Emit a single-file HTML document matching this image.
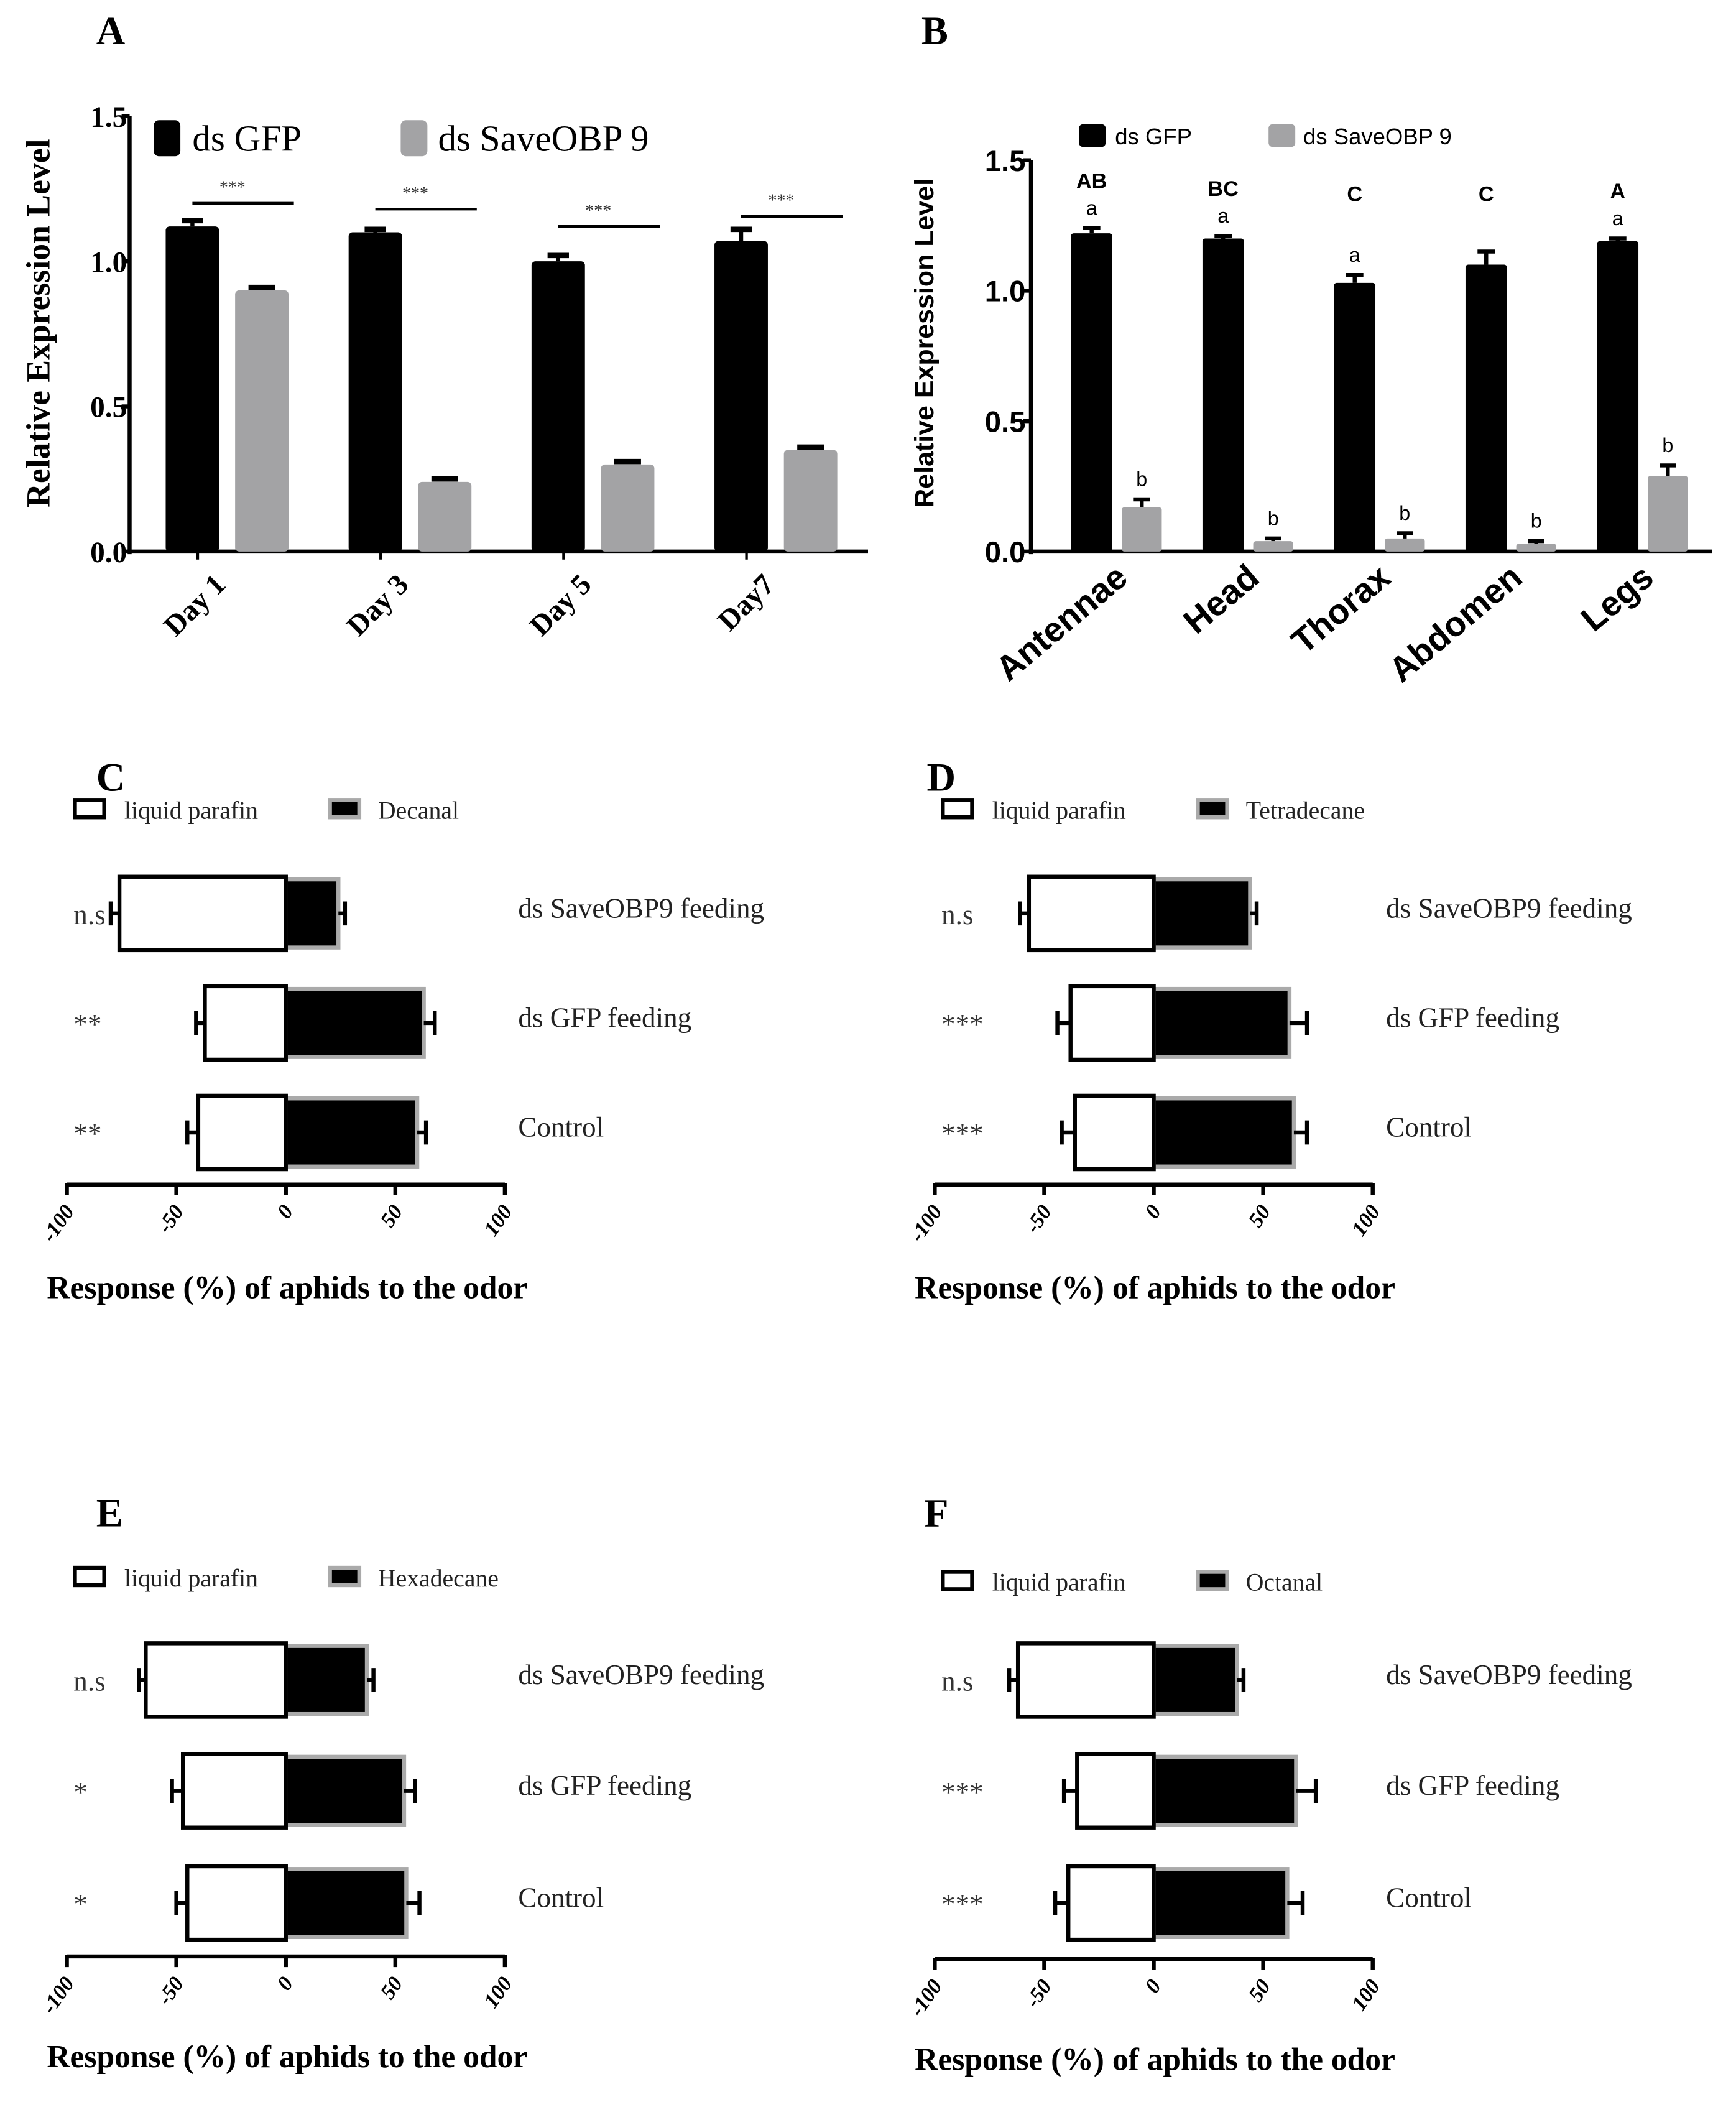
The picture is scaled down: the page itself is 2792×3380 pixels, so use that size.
<!DOCTYPE html>
<html><head><meta charset="utf-8"><style>
html,body{margin:0;padding:0;background:#fff}
svg{display:block}
.serif{font-family:"Liberation Serif",serif}
.sans{font-family:"Liberation Sans",sans-serif}
</style></head><body>
<svg id="fig" width="2792" height="3380" viewBox="0 0 1300 1574" xmlns="http://www.w3.org/2000/svg">
<rect width="1300" height="1574" fill="#fff"/>
<g class="serif" font-weight="bold" font-size="30">
<text x="72" y="33">A</text>
<text x="690" y="33">B</text>
<text x="72" y="592">C</text>
<text x="694" y="592">D</text>
<text x="72" y="1143">E</text>
<text x="692" y="1143">F</text>
</g>
</svg>
<script>
// ---- Panel A data ----
const daysA = ["Day 1","Day 3","Day 5","Day7"];
const gfpA = [1.12, 1.10, 1.00, 1.07];
const gfpErrA = [0.02, 0.01, 0.02, 0.04];
const obpA = [0.90, 0.24, 0.30, 0.35];
const obpErrA = [0.01, 0.01, 0.01, 0.01];
const sigA = [1.20, 1.18, 1.12, 1.155];
const ticksA = ["0.0","0.5","1.0","1.5"];
// ---- Panel B data ----
const tissuesB = ["Antennae","Head","Thorax","Abdomen","Legs"];
const gfpB = [1.22, 1.20, 1.03, 1.10, 1.19];
const gfpErrB = [0.02, 0.01, 0.03, 0.05, 0.01];
const obpB = [0.17, 0.04, 0.05, 0.03, 0.29];
const obpErrB = [0.03, 0.01, 0.02, 0.01, 0.04];
const upperB = ["AB","BC","C","C","A"];
const lowerGfpB = ["a","a","a","","a"];
const lowerObpB = ["b","b","b","b","b"];
const ticksB = ["0.0","0.5","1.0","1.5"];
// ---- Panels C-F data ----
const rowsCF = ["ds SaveOBP9 feeding","ds GFP feeding","Control"];
const ticksCF = [-100,-50,0,50,100];
const odorC = "Decanal", parC = [-76,-37,-40], parErrC=[4,4,5], odC=[24,63,60], odErrC=[3,5,4], sigC=["n.s","**","**"];
const odorD = "Tetradecane", parD = [-57,-38,-36], parErrD=[4,6,6], odD=[44,62,64], odErrD=[3,8,6], sigD=["n.s","***","***"];
const odorE = "Hexadecane", parE = [-64,-47,-45], parErrE=[3,5,5], odE=[37,54,55], odErrE=[3,5,6], sigE=["n.s","*","*"];
const odorF = "Octanal", parF = [-62,-35,-39], parErrF=[4,6,6], odF=[38,65,61], odErrF=[3,9,7], sigF=["n.s","***","***"];

const NS="http://www.w3.org/2000/svg";
const svg=document.getElementById('fig');
function mk(tag,attrs,parent,text){const e=document.createElementNS(NS,tag);for(const k in attrs)e.setAttribute(k,attrs[k]);if(text!==undefined)e.textContent=text;(parent||svg).appendChild(e);return e;}

// ===== Panel A =====
(function(){
  const g=mk('g',{});
  
  
  const x0=97,y0=413,yTop=87,xEnd=650,max=1.5;
  const y=v=>y0-(v/max)*(y0-yTop);
  const gx=i=>124+i*137;
  const bw=40;
  mk('line',{x1:x0,y1:yTop,x2:x0,y2:y0+2,stroke:'#000','stroke-width':3},g);
  mk('line',{x1:x0-2,y1:y0,x2:xEnd,y2:y0,stroke:'#000','stroke-width':3},g);
  ticksA.forEach((t,i)=>{const v=i*0.5;
    mk('line',{x1:x0-6,y1:y(v),x2:x0,y2:y(v),stroke:'#000','stroke-width':3},g);
    const tx=mk('text',{x:x0-2,y:y(v)+8,'text-anchor':'end','font-size':22,'font-weight':'bold',class:'serif'},g,t);
    
    
  });
  const yt=mk('text',{x:0,y:0,transform:'translate(37,242) rotate(-90)','text-anchor':'middle','font-size':25,'font-weight':'bold',class:'serif'},g,'Relative Expression Level');
  
  
  daysA.forEach((d,i)=>{
    const xb=gx(i), xg=xb+52;
    const b=mk('rect',{x:xb,y:y(gfpA[i]),width:bw,height:y0-y(gfpA[i]),rx:3,fill:'#000'},g);
    
    
    const e1=y(gfpA[i]+gfpErrA[i]);
    mk('line',{x1:xb+bw/2,y1:e1,x2:xb+bw/2,y2:y(gfpA[i]),stroke:'#000','stroke-width':3},g);
    mk('line',{x1:xb+12,y1:e1,x2:xb+28,y2:e1,stroke:'#000','stroke-width':4},g);
    const r=mk('rect',{x:xg,y:y(obpA[i]),width:bw,height:y0-y(obpA[i]),rx:3,fill:'#a3a3a5'},g);
    
    
    const e2=y(obpA[i]+obpErrA[i]);
    mk('line',{x1:xg+10,y1:e2,x2:xg+30,y2:e2,stroke:'#000','stroke-width':4},g);
    mk('line',{x1:xb+bw/2+4,y1:y0,x2:xb+bw/2+4,y2:y0+6,stroke:'#000','stroke-width':2},g);
    const sy=y(sigA[i]);
    mk('line',{x1:xb+20,y1:sy,x2:xg+44,y2:sy,stroke:'#000','stroke-width':2},g);
    mk('text',{x:xb+50,y:sy-8,'text-anchor':'middle','font-size':13,fill:'#333',class:'serif'},g,'***');
    const lb=mk('text',{x:0,y:0,transform:`translate(${xb+46},${y0+26}) rotate(-45)`,'text-anchor':'end','font-size':22,'font-weight':'bold',class:'serif'},g,d);
    
    
  });
  const l1=mk('rect',{x:115,y:90,width:20,height:27,rx:4,fill:'#000'},g);
  
  
  mk('text',{x:144,y:113,'font-size':27.5,class:'serif'},g,'ds GFP');
  const l2=mk('rect',{x:300,y:90,width:20,height:27,rx:4,fill:'#a3a3a5'},g);
  
  
  mk('text',{x:328,y:113,'font-size':27.5,class:'serif'},g,'ds SaveOBP 9');
})();

// ===== Panel B =====
(function(){
  const g=mk('g',{});
  
  
  const x0=772,y0=413,yTop=120,xEnd=1282,max=1.5;
  const y=v=>y0-(v/max)*(y0-yTop);
  const gx=i=>802+i*98.5;
  const bw=31;
  mk('line',{x1:x0,y1:yTop,x2:x0,y2:y0+2,stroke:'#000','stroke-width':3},g);
  mk('line',{x1:x0-2,y1:y0,x2:xEnd,y2:y0,stroke:'#000','stroke-width':3},g);
  ticksB.forEach((t,i)=>{const v=i*0.5;
    mk('line',{x1:x0-6,y1:y(v),x2:x0,y2:y(v),stroke:'#000','stroke-width':3},g);
    const tx=mk('text',{x:x0-4,y:y(v)+8,'text-anchor':'end','font-size':22,'font-weight':'bold',class:'sans'},g,t);
    
    
  });
  const yt=mk('text',{x:0,y:0,transform:'translate(699,257) rotate(-90)','text-anchor':'middle','font-size':20,'font-weight':'bold',class:'sans'},g,'Relative Expression Level');
  
  
  tissuesB.forEach((d,i)=>{
    const xb=gx(i), xg=xb+38;
    const b=mk('rect',{x:xb,y:y(gfpB[i]),width:bw,height:y0-y(gfpB[i]),rx:2,fill:'#000'},g);
    
    
    const e1=y(gfpB[i]+gfpErrB[i]);
    mk('line',{x1:xb+bw/2,y1:e1,x2:xb+bw/2,y2:y(gfpB[i]),stroke:'#000','stroke-width':3},g);
    mk('line',{x1:xb+9,y1:e1,x2:xb+22,y2:e1,stroke:'#000','stroke-width':3},g);
    const r=mk('rect',{x:xg,y:y(obpB[i]),width:30,height:y0-y(obpB[i]),rx:2,fill:'#a3a3a5'},g);
    
    
    const e2=y(obpB[i]+obpErrB[i]);
    mk('line',{x1:xg+15,y1:e2,x2:xg+15,y2:y(obpB[i]),stroke:'#000','stroke-width':3},g);
    mk('line',{x1:xg+9,y1:e2,x2:xg+21,y2:e2,stroke:'#000','stroke-width':3},g);
    const topG=Math.max(gfpB[i]+gfpErrB[i],1.19);
    if(lowerGfpB[i]) mk('text',{x:xb+bw/2,y:y(gfpB[i]+gfpErrB[i])-10,'text-anchor':'middle','font-size':15,class:'sans'},g,lowerGfpB[i]);
    mk('text',{x:xb+bw/2,y:y(topG)-30,'text-anchor':'middle','font-size':16,'font-weight':'bold',class:'sans'},g,upperB[i]);
    mk('text',{x:xg+15,y:y(obpB[i]+obpErrB[i])-10,'text-anchor':'middle','font-size':15,class:'sans'},g,lowerObpB[i]);
    const lb=mk('text',{x:0,y:0,transform:`translate(${xb+44},${y0+22}) rotate(-40)`,'text-anchor':'end','font-size':26,'font-weight':'bold',class:'sans'},g,d);
    
    
  });
  const l1=mk('rect',{x:808,y:93,width:20,height:17,rx:3,fill:'#000'},g);
  
  
  mk('text',{x:835,y:108,'font-size':17,class:'sans'},g,'ds GFP');
  const l2=mk('rect',{x:950,y:93,width:20,height:17,rx:3,fill:'#a3a3a5'},g);
  
  
  mk('text',{x:976,y:108,'font-size':17,class:'sans'},g,'ds SaveOBP 9');
})();

// ===== Panels C-F =====
function hpanel(name,ax0,rowY,axisY,legY,odor,par,parErr,od,odErr,sig,title,titleY){
  const g=mk('g',{class:'serif'});
  
  
  const xL=ax0, xR=ax0+328;
  const x=v=>xL+(v+100)/200*(xR-xL);
  const h=55;
  rowsCF.forEach((r,i)=>{
    const cy=rowY[i];
    const ob=mk('rect',{x:x(0),y:cy-h/2+2,width:x(od[i])-x(0),height:h-4,fill:'#000',stroke:'#aaa','stroke-width':3},g);
    
    
    const oe=x(od[i]+odErr[i]);
    mk('line',{x1:x(od[i]),y1:cy,x2:oe,y2:cy,stroke:'#000','stroke-width':3},g);
    mk('line',{x1:oe,y1:cy-9,x2:oe,y2:cy+9,stroke:'#000','stroke-width':3},g);
    const pb=mk('rect',{x:x(par[i]),y:cy-h/2,width:x(0)-x(par[i]),height:h,fill:'#fff',stroke:'#000','stroke-width':3},g);
    
    
    const pe=x(par[i]-parErr[i]);
    mk('line',{x1:pe,y1:cy,x2:x(par[i]),y2:cy,stroke:'#000','stroke-width':3},g);
    mk('line',{x1:pe,y1:cy-9,x2:pe,y2:cy+9,stroke:'#000','stroke-width':3},g);
    mk('text',{x:ax0+5,y:cy+8,'font-size':21,fill:'#333'},g,sig[i]);
    const rl=mk('text',{x:ax0+338,y:cy+3,'font-size':21,fill:'#222'},g,r);
    
    
  });
  mk('line',{x1:xL,y1:axisY,x2:xR,y2:axisY,stroke:'#000','stroke-width':3},g);
  ticksCF.forEach(t=>{
    mk('line',{x1:x(t),y1:axisY-1,x2:x(t),y2:axisY+8,stroke:'#000','stroke-width':3},g);
    const tl=mk('text',{x:0,y:0,transform:`translate(${x(t)+6},${axisY+20}) rotate(-55)`,'text-anchor':'end','font-size':16,'font-weight':'bold','font-style':'italic'},g,String(t));
    
    
  });
  const lp=mk('rect',{x:ax0+6,y:legY-7,width:22,height:13,fill:'#fff',stroke:'#000','stroke-width':3},g);
  
  
  mk('text',{x:ax0+43,y:legY+7,'font-size':18.5,fill:'#222'},g,'liquid parafin');
  const lo=mk('rect',{x:ax0+197,y:legY-7,width:22,height:13,fill:'#000',stroke:'#aaa','stroke-width':3},g);
  
  
  mk('text',{x:ax0+233,y:legY+7,'font-size':18.5,fill:'#222'},g,odor);
  const tt=mk('text',{x:ax0-15,y:titleY,'font-size':24,'font-weight':'bold'},g,title);
  
  
}
hpanel('panel-c',50,[684,766,848],887,606,odorC,parC,parErrC,odC,odErrC,sigC,'Response (%) of aphids to the odor',972);
hpanel('panel-d',700,[684,766,848],887,606,odorD,parD,parErrD,odD,odErrD,sigD,'Response (%)  of aphids to the odor',972);
hpanel('panel-e',50,[1258,1341,1425],1465,1181,odorE,parE,parErrE,odE,odErrE,sigE,'Response (%)  of aphids to the odor',1548);
hpanel('panel-f',700,[1258,1341,1425],1467,1184,odorF,parF,parErrF,odF,odErrF,sigF,'Response (%)  of aphids to the odor',1550);
</script>
</body></html>
